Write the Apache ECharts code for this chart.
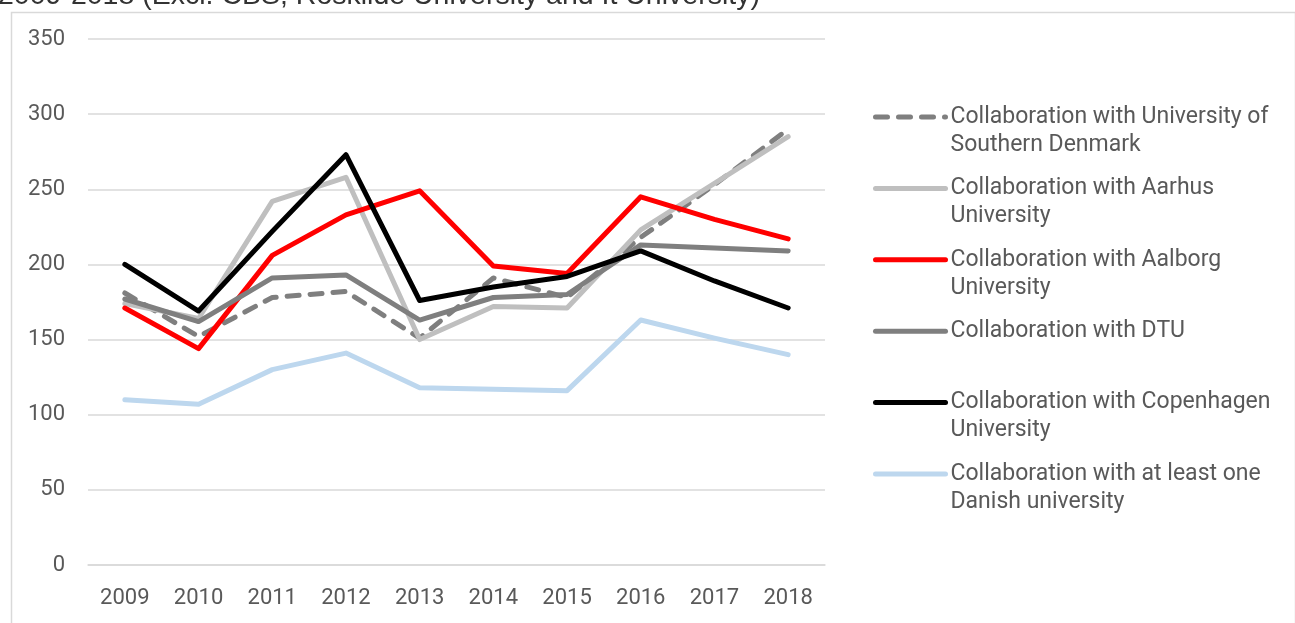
<!DOCTYPE html>
<html>
<head>
<meta charset="utf-8">
<script src="https://cdn.jsdelivr.net/npm/echarts@6/dist/echarts.min.js"></script>
<style>
  html, body { margin: 0; padding: 0; background: #fff; }
  #chart { width: 1295px; height: 623px; }
</style>
</head>
<body>
<div id="chart"></div>
<script>
// data
var years = ['2009', '2010', '2011', '2012', '2013', '2014', '2015', '2016', '2017', '2018'];
var sduValues = [181, 152, 178, 182, 151, 191, 178, 218, 253, 290];
var aarhusValues = [174, 164, 242, 258, 150, 172, 171, 223, 254, 285];
var aalborgValues = [171, 144, 206, 233, 249, 199, 194, 245, 230, 217];
var dtuValues = [177, 162, 191, 193, 163, 178, 180, 213, 211, 209];
var cphValues = [200, 169, 222, 273, 176, 185, 192, 209, 189, 171];
var anyValues = [110, 107, 130, 141, 118, 117, 116, 163, 151, 140];

var seriesNames = [
    'Collaboration with University of Southern Denmark',
    'Collaboration with Aarhus University',
    'Collaboration with Aalborg University',
    'Collaboration with DTU',
    'Collaboration with Copenhagen University',
    'Collaboration with at least one Danish university'
];
// how the legend wraps each name
var legendLabels = [
    'Collaboration with University of\nSouthern Denmark',
    'Collaboration with Aarhus\nUniversity',
    'Collaboration with Aalborg\nUniversity',
    'Collaboration with DTU\n ',
    'Collaboration with Copenhagen\nUniversity',
    'Collaboration with at least one\nDanish university'
];
var titleText = '2009-2018 (Excl. CBS, Roskilde University and It University)';

var textColor = '#595959';
var fontName = 'Roboto';

function makeLine(name, values, color, dashed) {
    return {
        name: name,
        type: 'line',
        data: values,
        symbol: 'none',
        smooth: false,
        lineStyle: {
            color: color,
            width: 5,
            type: dashed ? [12, 11] : 'solid',
            cap: 'round',
            join: 'round'
        },
        itemStyle: { color: color },
        emphasis: { disabled: true }
    };
}

var chart = echarts.init(document.getElementById('chart'));
var option = {
    backgroundColor: '#fff',
    animation: false,
    // title sits mostly above the picture, only its lower part shows
    title: {
        text: titleText,
        left: -2,
        top: -18,
        padding: 0,
        textStyle: { color: '#333333', fontFamily: 'Liberation Sans', fontSize: 28.5, fontWeight: 'normal' }
    },
    graphic: [{
        type: 'rect',
        left: 9,
        top: 10,
        shape: { width: 1284, height: 700 },
        style: { fill: 'none', stroke: '#d9d9d9', lineWidth: 1.5 },
        silent: true
    }],
    grid: { left: 88, right: 470, top: 39, bottom: 58, containLabel: false },
    legend: {
        orient: 'vertical',
        left: 873,
        top: 75,
        padding: 0,
        itemWidth: 70,
        itemHeight: 10,
        itemGap: -12.6,
        selectedMode: false,
        data: seriesNames,
        itemStyle: { opacity: 0 },
        lineStyle: { width: 5 },
        formatter: function (name) {
            return '\n' + legendLabels[seriesNames.indexOf(name)];
        },
        textStyle: { color: textColor, fontFamily: fontName, fontSize: 23, lineHeight: 28 }
    },
    xAxis: {
        type: 'category',
        data: years,
        boundaryGap: true,
        axisLine: { show: true, lineStyle: { color: '#d9d9d9', width: 1.5 } },
        axisTick: { show: false },
        axisLabel: { color: textColor, fontFamily: fontName, fontSize: 22, margin: 22 }
    },
    yAxis: {
        type: 'value',
        min: 0,
        max: 350,
        interval: 50,
        axisLine: { show: false },
        axisTick: { show: false },
        splitLine: { lineStyle: { color: '#d9d9d9', width: 1.5 } },
        axisLabel: { color: textColor, fontFamily: fontName, fontSize: 22, margin: 23 }
    },
    series: [
        makeLine(seriesNames[0], sduValues, '#7f7f7f', true),
        makeLine(seriesNames[1], aarhusValues, '#bfbfbf', false),
        makeLine(seriesNames[2], aalborgValues, '#ff0000', false),
        makeLine(seriesNames[3], dtuValues, '#7f7f7f', false),
        makeLine(seriesNames[4], cphValues, '#000000', false),
        makeLine(seriesNames[5], anyValues, '#bdd7ee', false)
    ]
};
chart.setOption(option);
</script>
</body>
</html>
